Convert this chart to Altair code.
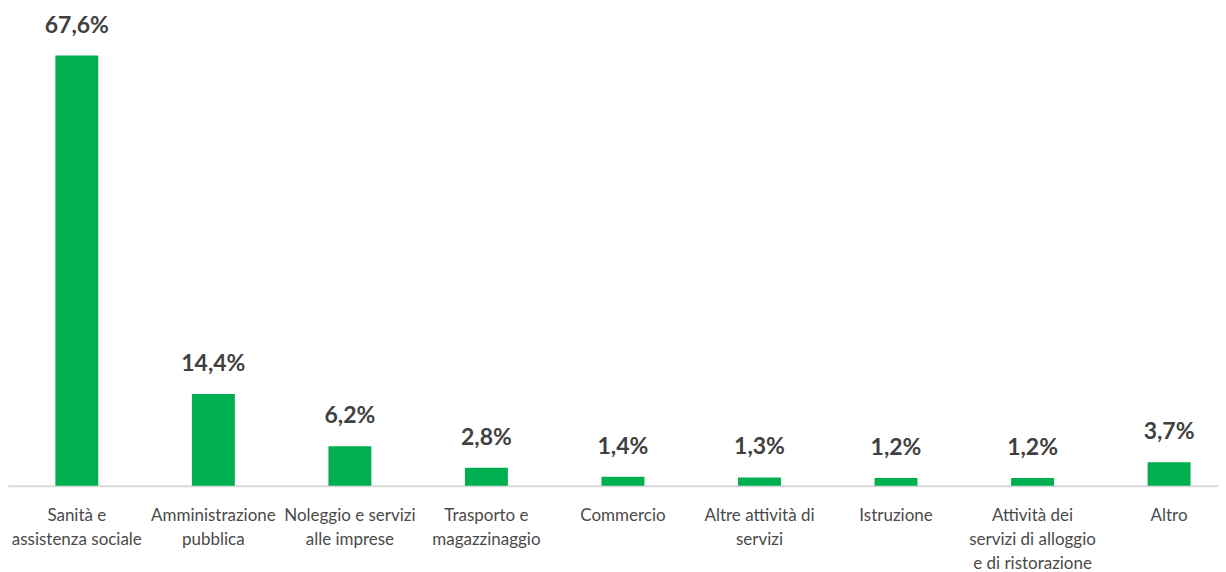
import altair as alt
import pandas as pd

categories = [
    "Sanità e|assistenza sociale",
    "Amministrazione|pubblica",
    "Noleggio e servizi|alle imprese",
    "Trasporto e|magazzinaggio",
    "Commercio",
    "Altre attività di|servizi",
    "Istruzione",
    "Attività dei|servizi di alloggio|e di ristorazione",
    "Altro",
]
values = [67.6, 14.4, 6.2, 2.8, 1.4, 1.3, 1.2, 1.2, 3.7]
value_labels = ["67,6%", "14,4%", "6,2%", "2,8%", "1,4%", "1,3%", "1,2%", "1,2%", "3,7%"]

df = pd.DataFrame({"cat": categories, "val": values, "lab": value_labels})

FONT = "Lato"

x = alt.X(
    "cat:N",
    sort=categories,
    scale=alt.Scale(paddingInner=0.6856, paddingOuter=0.274, align=0.633),
    axis=alt.Axis(
        title=None,
        labelAngle=0,
        labelExpr="split(datum.value, '|')",
        labelFont=FONT,
        labelFontSize=17,
        labelColor="#4a4a4a",
        labelLineHeight=24,
        labelPadding=22,
        labelBaseline="top",
        ticks=False,
        domainColor="#d9d9d9",
        domainWidth=2,
        labelLimit=0,
    ),
)
y = alt.Y(
    "val:Q",
    scale=alt.Scale(domain=[0, 75], nice=False),
    axis=None,
)

bars = alt.Chart(df).mark_bar(color="#00B050").encode(x=x, y=y)
text = alt.Chart(df).mark_text(
    font=FONT, fontSize=23, fontWeight="bold", color="#404040",
    baseline="middle", dy=-30,
).encode(x=alt.X("cat:N", sort=categories), y="val:Q", text="lab:N")

chart = (bars + text).properties(
    width=1212, height=478,
).configure(padding=0, background="white").configure_view(stroke=None)

chart.save("out.html", embed_options={"renderer": "svg", "actions": False})
